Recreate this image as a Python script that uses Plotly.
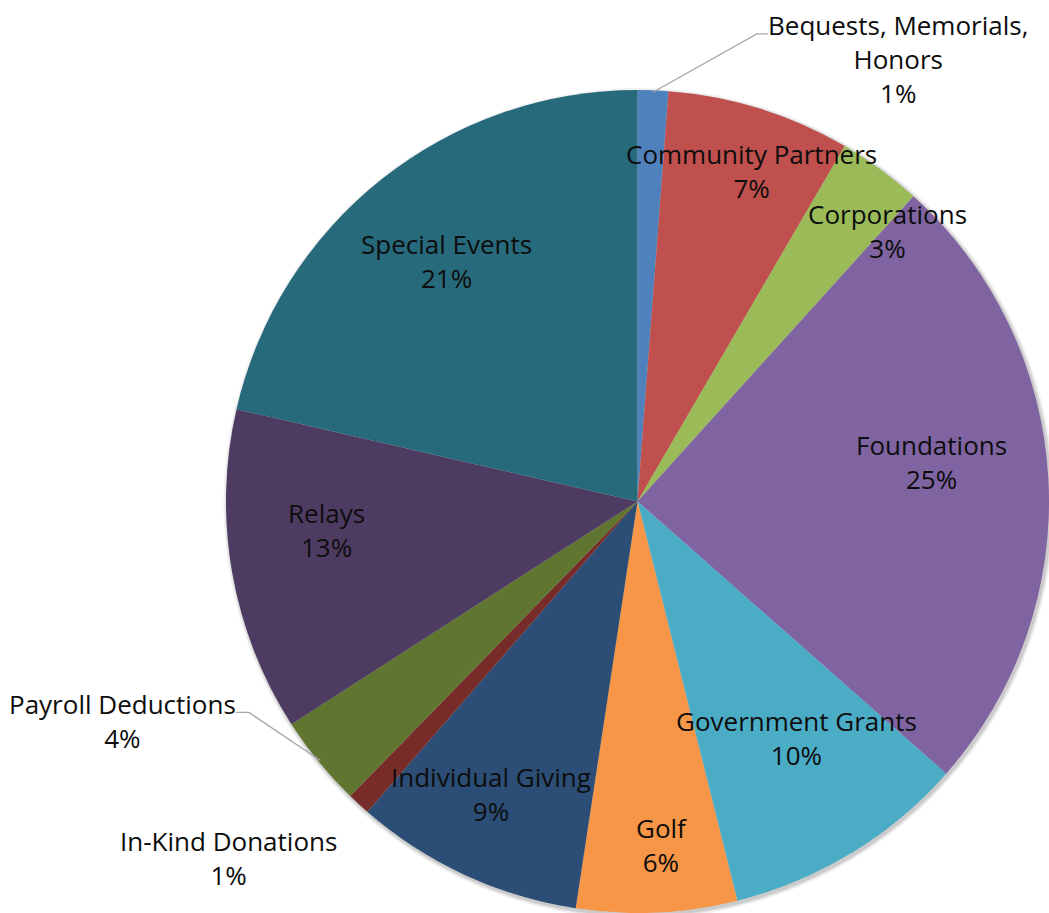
import math
import plotly.graph_objects as go

W, H = 1049, 913

categories = ["Bequests, Memorials, Honors", "Community Partners", "Corporations",
              "Foundations", "Government Grants", "Golf", "Individual Giving",
              "In-Kind Donations", "Payroll Deductions", "Relays", "Special Events"]
shares = [1.2, 7.2, 3.3, 24.8, 9.6, 6.3, 9.0, 0.9, 3.6, 12.7, 21.4]
label_text = ["Bequests, Memorials,<br>Honors", "Community Partners", "Corporations",
              "Foundations", "Government Grants", "Golf", "Individual Giving",
              "In-Kind Donations", "Payroll Deductions", "Relays", "Special Events"]
colors = ["#4F81BD", "#C0504D", "#9BBB59", "#8064A2", "#4BACC6", "#F79646",
          "#2C4D75", "#772C2A", "#5F7530", "#4D3B62", "#276A7C"]

# label placement: (radius fraction, angle offset in degrees from slice middle)
label_place = [(1.248, 28.3), (0.85, 1.7), (0.895, 6.5), (0.72, -4.5), (0.693, -2.6),
               (0.837, -1.3), (0.795, 1.7), (1.318, 6.3), (1.36, 16.1), (0.758, 4.6),
               (0.746, 0.1)]
# leader lines for outside labels: index -> (elbow offset, end offset) relative to label centre (px)
leaders = {0: ((-141, -25), (-130, -25)), 8: ((126, -9), (113, -9))}

# pie geometry in pixels
top_px = 90
x0_px = 226
r = (W - x0_px) / 2.0
cx = (x0_px + W) / 2.0
cy = top_px + (H - top_px) / 2.0
r = min(r, (H - top_px) / 2.0)

def px2paper(x, y):
    return x / W, 1 - y / H

fig = go.Figure()
fig.add_trace(go.Pie(
    labels=categories, values=shares, sort=False, direction="clockwise", rotation=0,
    marker=dict(colors=colors, line=dict(width=0)),
    textinfo="none", hoverinfo="label+percent", showlegend=False,
    domain=dict(x=[x0_px / W, 1], y=[0, 1 - top_px / H]),
))

total = sum(shares)
annotations = []
shapes = []

# soft shadow
for grow, alpha in [(4, 0.05), (2.5, 0.07), (1.2, 0.09)]:
    ox, oy = 1.5, 2.0
    a0 = px2paper(cx - r - grow + ox, cy + r + grow + oy)
    a1 = px2paper(cx + r + grow + ox, cy - r - grow + oy)
    shapes.append(dict(type="circle", xref="paper", yref="paper", layer="below",
                       x0=a0[0], y0=a0[1], x1=a1[0], y1=a1[1],
                       fillcolor=f"rgba(0,0,0,{alpha})", line=dict(width=0)))

cum = 0.0
for i, v in enumerate(shares):
    mid = (cum + v / 2) / total * 360.0
    cum += v
    f, off = label_place[i]
    th = math.radians(mid + off)
    lx = cx + f * r * math.sin(th)
    ly = cy - f * r * math.cos(th)
    pct = round(v / total * 100)
    ax_, ay_ = px2paper(lx, ly)
    annotations.append(dict(
        x=ax_, y=ay_, xref="paper", yref="paper", xanchor="center", yanchor="middle",
        text=f"{label_text[i]}<br>{pct}%", showarrow=False, align="center",
        font=dict(family="Open Sans", size=26, color="#0d0d0d"),
    ))
    if i in leaders:
        (ex, ey), (hx, hy) = leaders[i]
        tm = math.radians(mid)
        sx = cx + (r - 2) * math.sin(tm)
        sy = cy - (r - 2) * math.cos(tm)
        p1 = px2paper(sx, sy)
        p2 = px2paper(lx + ex, ly + ey)
        p3 = px2paper(lx + hx, ly + hy)
        shapes.append(dict(type="path", xref="paper", yref="paper",
                           path=f"M {p1[0]} {p1[1]} L {p2[0]} {p2[1]} L {p3[0]} {p3[1]}",
                           line=dict(color="#A6A6A6", width=1.3)))

fig.update_layout(
    width=W, height=H, margin=dict(l=0, r=0, t=0, b=0),
    paper_bgcolor="white", plot_bgcolor="white",
    annotations=annotations, shapes=shapes,
)
fig.write_html("out.html", config={"displayModeBar": False},
               post_script="document.body.style.margin='0';")
